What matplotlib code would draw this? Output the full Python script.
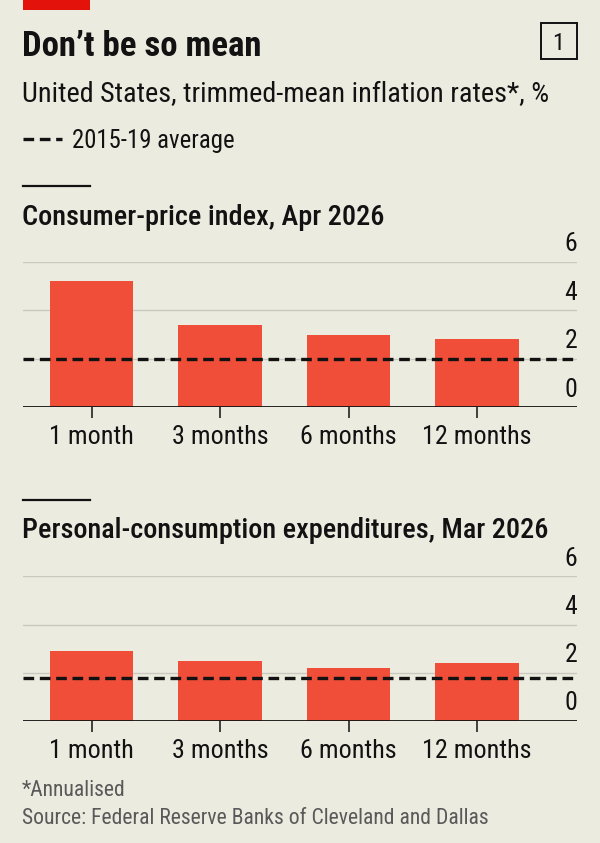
import matplotlib
matplotlib.use("Agg")
import matplotlib.pyplot as plt
from matplotlib import font_manager
from matplotlib.lines import Line2D
from matplotlib.patches import Rectangle

# data
periods = ["1 month", "3 months", "6 months", "12 months"]
cpi_values = [5.2, 3.4, 3.0, 2.8]
pce_values = [2.9, 2.5, 2.2, 2.4]
cpi_avg = 2.0
pce_avg = 1.8
yticks = [0, 2, 4, 6]

title = "Don\u2019t be so mean"
subtitle = "United States, trimmed-mean inflation rates*, %"
legend_label = "2015-19 average"
panel_titles = ["Consumer-price index, Apr 2026",
                "Personal-consumption expenditures, Mar 2026"]
footnote = "*Annualised"
source = "Source: Federal Reserve Banks of Cleveland and Dallas"

# font: condensed if we have one
names = {f.name for f in font_manager.fontManager.ttflist}
fam = "DejaVu Sans"
for cand in ["Liberation Sans Narrow", "Roboto Condensed", "Roboto", "Liberation Sans"]:
    if cand in names:
        fam = cand
        break
plt.rcParams["font.family"] = [fam, "DejaVu Sans"]

BG = "#ecebe0"
RED = "#f04e38"
INK = "#121212"
GRID = "#c9c9c0"
GREY = "#595959"

W, H = 600, 843
fig = plt.figure(figsize=(W / 100, H / 100), dpi=100, facecolor=BG)


def fx(px):
    return px / W


def fy(py):
    return 1 - py / H


# red tag at top
fig.add_artist(Rectangle((fx(22.7), fy(10)), fx(90) - fx(22.7), 10 / H,
                         transform=fig.transFigure, color="#e3120b", lw=0))

fig.text(fx(22), fy(56), title, fontsize=25, fontweight="bold", color=INK, va="baseline")
fig.text(fx(22), fy(102.5), subtitle, fontsize=20.3, color=INK, va="baseline")

# number box
fig.add_artist(Rectangle((fx(540.5), fy(59.3)), fx(576.7) - fx(540.5), 36 / H,
                         transform=fig.transFigure, fc="none", ec=INK, lw=1.4))
fig.text(fx(558.6), fy(50.5), "1", fontsize=17.5, color=INK, ha="center", va="baseline")

# legend
fig.add_artist(Line2D([fx(22.7), fx(61.7)], [fy(139.3), fy(139.3)], transform=fig.transFigure,
                      color=INK, lw=2.4, linestyle=(0, (3.2, 1.7))))
fig.text(fx(71.5), fy(148.3), legend_label, fontsize=17.8, color=INK, va="baseline")

panels = [
    dict(values=cpi_values, avg=cpi_avg, line=186, ttl=225, top=261.7, bottom=407.3),
    dict(values=pce_values, avg=pce_avg, line=500, ttl=538, top=576.3, bottom=721),
]

for p, ptitle in zip(panels, panel_titles):
    fig.add_artist(Line2D([fx(22.7), fx(90)], [fy(p["line"]), fy(p["line"])],
                          transform=fig.transFigure, color=INK, lw=1.6))
    fig.text(fx(22), fy(p["ttl"]), ptitle, fontsize=20.3, fontweight="medium",
             color=INK, va="baseline")

    ax = fig.add_axes([fx(22.7), fy(p["bottom"]), fx(577) - fx(22.7),
                       (p["bottom"] - p["top"]) / H])
    ax.set_facecolor("none")
    x = list(range(len(periods)))
    ax.bar(x, p["values"], width=0.65, color=RED, zorder=2)
    ax.axhline(p["avg"], color=INK, lw=2.4, linestyle=(0, (3.2, 1.7)), zorder=4)
    ax.set_xlim(-0.537, 3.777)
    ax.set_ylim(0, 6)

    for v in yticks[1:]:
        ax.axhline(v, color=GRID, lw=1.0, zorder=1)
    ax.axhline(0, color=INK, lw=1.3, zorder=5)
    for v in yticks:
        ax.annotate(str(v), xy=(1, v), xycoords=ax.get_yaxis_transform(),
                    xytext=(0, 4.0), textcoords="offset points",
                    ha="right", va="bottom", fontsize=18.5, color=INK)

    for s in ax.spines.values():
        s.set_visible(False)
    ax.set_yticks([])
    ax.set_xticks(x)
    ax.set_xticklabels(periods, fontsize=18.8, color=INK)
    ax.tick_params(axis="x", length=8, width=1.1, color=INK, pad=5)

fig.text(fx(22), fy(796), footnote, fontsize=15.6, color=GREY, va="baseline")
fig.text(fx(22), fy(824), source, fontsize=15.6, color=GREY, va="baseline")

fig.savefig("out.png", dpi=100, facecolor=BG)
